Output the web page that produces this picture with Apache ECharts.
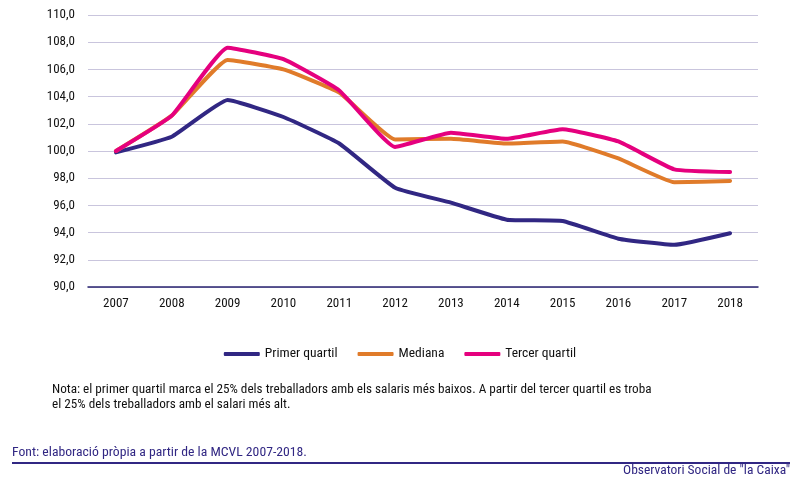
<!DOCTYPE html>
<html><head><meta charset="utf-8">
<script src="https://cdn.jsdelivr.net/npm/echarts@6/dist/echarts.min.js"></script>
<style>html,body{margin:0;padding:0;background:#fff}#c{width:800px;height:489px}</style>
</head><body><div id="c"></div>
<script>
var years = ['2007','2008','2009','2010','2011','2012','2013','2014','2015','2016','2017','2018'];
var primerQuartil = [99.9, 101.05, 103.75, 102.5, 100.55, 97.3, 96.2, 94.95, 94.85, 93.55, 93.1, 93.95];
var mediana = [100.0, 102.6, 106.7, 106.0, 104.3, 100.85, 100.9, 100.55, 100.7, 99.45, 97.7, 97.8];
var tercerQuartil = [100.0, 102.6, 107.6, 106.75, 104.45, 100.3, 101.35, 100.9, 101.6, 100.7, 98.65, 98.45];
var seriesNames = ['Primer quartil', 'Mediana', 'Tercer quartil'];
var noteLines = ['Nota: el primer quartil marca el 25% dels treballadors amb els salaris més baixos. A partir del tercer quartil es troba', 'el 25% dels treballadors amb el salari més alt.'];
var sourceText = 'Font: elaboració pròpia a partir de la MCVL 2007-2018.';
var brandText = 'Observatori Social de "la Caixa"';

var FONT = '"Roboto Condensed", Roboto, Arial, sans-serif';
var colors = ['#312783', '#E07B2A', '#E5007E'];
var chart = echarts.init(document.getElementById('c'), null, {renderer: 'canvas'});
function mk(name, data, color) {
  return {name: name, type: 'line', data: data, smooth: 0.12, symbol: 'none',
    lineStyle: {width: 4, color: color, cap: 'round', join: 'round'}, itemStyle: {color: color}};
}
chart.setOption({
  animation: false,
  textStyle: {fontFamily: FONT},
  grid: {left: 88, right: 42, top: 15, height: 272},
  legend: {
    data: seriesNames, top: 342, left: 'center', itemWidth: 36, itemHeight: 4, itemGap: 20,
    icon: 'roundRect',
    textStyle: {fontFamily: FONT, fontSize: 13.5, color: '#111'}
  },
  xAxis: {
    type: 'category', data: years, boundaryGap: true,
    axisLine: {lineStyle: {color: '#2a2470', width: 1.5}},
    axisTick: {show: false},
    axisLabel: {fontFamily: FONT, fontSize: 13, color: '#111', margin: 10}
  },
  yAxis: {
    type: 'value', min: 90, max: 110, interval: 2,
    axisLine: {show: false}, axisTick: {show: false},
    splitLine: {lineStyle: {color: '#c9c5dd', width: 1}},
    axisLabel: {fontFamily: FONT, fontSize: 13, color: '#111', margin: 13,
      formatter: function (v) { return v.toFixed(1).replace('.', ','); }}
  },
  series: [mk(seriesNames[0], primerQuartil, colors[0]), mk(seriesNames[1], mediana, colors[1]), mk(seriesNames[2], tercerQuartil, colors[2])],
  graphic: [
    {type: 'text', left: 52, top: 383, style: {text: noteLines[0], font: '13.2px ' + FONT, fill: '#111'}},
    {type: 'text', left: 52, top: 398, style: {text: noteLines[1], font: '13.2px ' + FONT, fill: '#111'}},
    {type: 'text', left: 12, top: 446, style: {text: sourceText, font: '13.7px ' + FONT, fill: '#312783'}},
    {type: 'rect', shape: {x: 12, y: 462, width: 778, height: 2}, style: {fill: '#312783'}},
    {type: 'text', right: 10, top: 464, style: {text: brandText, font: '13.5px ' + FONT, fill: '#312783'}}
  ]
});
</script></body></html>
